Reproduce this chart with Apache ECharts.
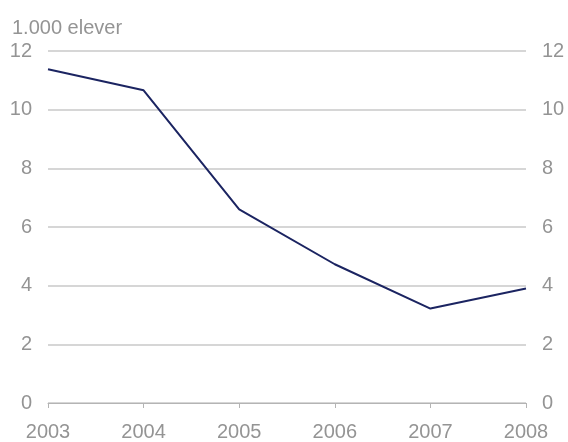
<!DOCTYPE html>
<html>
<head>
<meta charset="utf-8">
<script src="https://cdn.jsdelivr.net/npm/echarts@6/dist/echarts.min.js"></script>
<style>html,body{margin:0;padding:0;background:#fff}#c{width:568px;height:442px}</style>
</head>
<body>
<div id="c"></div>
<script>
var years = ['2003','2004','2005','2006','2007','2008'];
var elever = [11.38, 10.66, 6.6, 4.73, 3.22, 3.9];
var unitLabel = '1.000 elever';

var chart = echarts.init(document.getElementById('c'), null, {renderer:'canvas'});
var labelStyle = {color:'#949494', fontSize:20, fontFamily:'Liberation Sans, Arial, sans-serif'};
chart.setOption({
  animation:false,
  title:{text:unitLabel, left:7, top:13, textStyle:{color:'#949494', fontSize:20, fontWeight:'normal', fontFamily:'Liberation Sans, Arial, sans-serif'}},
  grid:{left:48, right:42, top:51, bottom:38},
  xAxis:{type:'category', data:years, boundaryGap:false,
    axisLine:{lineStyle:{color:'#b4b4b4', width:1}},
    axisTick:{show:true, length:5, lineStyle:{color:'#b4b4b4'}},
    axisLabel:Object.assign({margin:19}, labelStyle),
    splitLine:{show:false}},
  yAxis:[
    {type:'value', min:0, max:12, interval:2, position:'left',
     axisLine:{show:false}, axisTick:{show:false},
     axisLabel:Object.assign({margin:16}, labelStyle),
     splitLine:{lineStyle:{color:'#c8c8c8', width:1.5}}},
    {type:'value', min:0, max:12, interval:2, position:'right',
     axisLine:{show:false}, axisTick:{show:false},
     axisLabel:Object.assign({margin:16}, labelStyle),
     splitLine:{show:false}}
  ],
  series:[{type:'line', data:elever, yAxisIndex:0, symbol:'none',
    lineStyle:{color:'#1b2461', width:2}}]
});
</script>
</body>
</html>
